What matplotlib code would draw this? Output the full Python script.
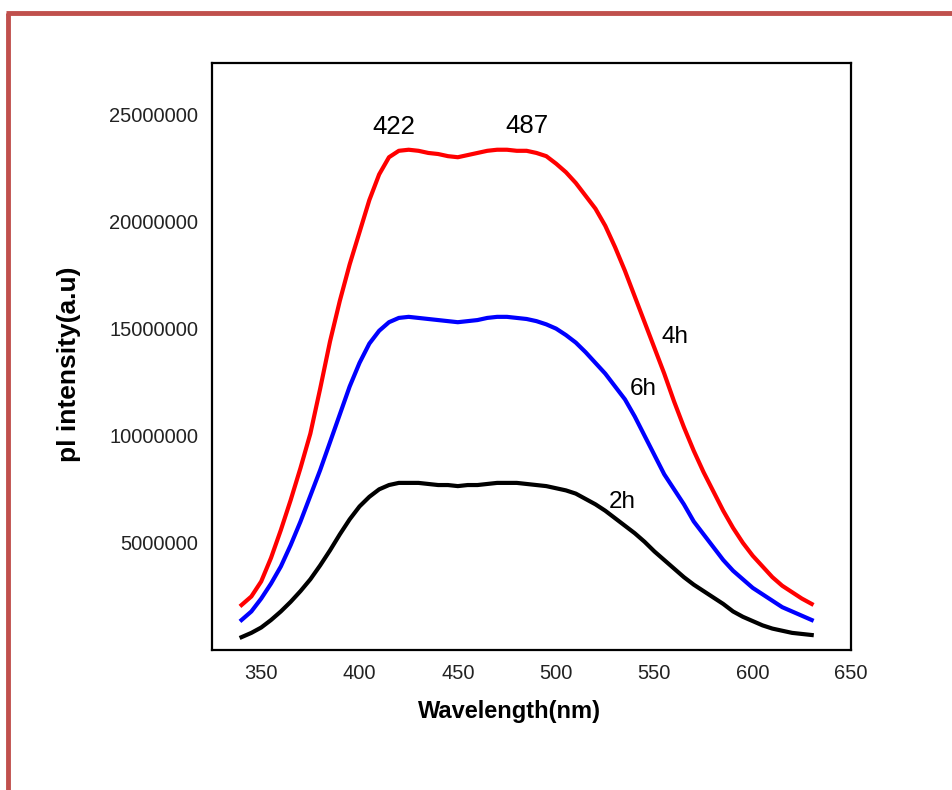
import numpy as np
import matplotlib
matplotlib.use("Agg")
import matplotlib.pyplot as plt
from matplotlib.lines import Line2D

plt.rcParams['font.family'] = ['Liberation Sans', 'DejaVu Sans']

# wavelength (nm) and PL intensity (millions, a.u.)
wavelength = np.arange(340, 631, 5)

red_4h = [2.1, 2.5, 3.2, 4.3, 5.6, 7.0, 8.5, 10.1, 12.2, 14.4,
          16.3, 18.0, 19.5, 21.0, 22.2, 23.0, 23.3, 23.35, 23.3, 23.2,
          23.15, 23.05, 23.0, 23.1, 23.2, 23.3, 23.35, 23.35, 23.3, 23.3,
          23.2, 23.05, 22.7, 22.3, 21.8, 21.2, 20.6, 19.8, 18.8, 17.7,
          16.5, 15.3, 14.1, 12.9, 11.6, 10.4, 9.3, 8.3, 7.4, 6.5,
          5.7, 5.0, 4.4, 3.9, 3.4, 3.0, 2.7, 2.4, 2.15]

blue_6h = [1.4, 1.8, 2.4, 3.1, 3.9, 4.9, 6.0, 7.2, 8.4, 9.7,
           11.0, 12.3, 13.4, 14.3, 14.9, 15.3, 15.5, 15.55, 15.5, 15.45,
           15.4, 15.35, 15.3, 15.35, 15.4, 15.5, 15.55, 15.55, 15.5, 15.45,
           15.35, 15.2, 15.0, 14.7, 14.35, 13.9, 13.4, 12.9, 12.3, 11.7,
           10.9, 10.0, 9.1, 8.2, 7.5, 6.8, 6.0, 5.4, 4.8, 4.2,
           3.7, 3.3, 2.9, 2.6, 2.3, 2.0, 1.8, 1.6, 1.4]

black_2h = [0.6, 0.8, 1.05, 1.4, 1.8, 2.25, 2.75, 3.3, 3.95, 4.65,
            5.4, 6.1, 6.7, 7.15, 7.5, 7.7, 7.8, 7.8, 7.8, 7.75,
            7.7, 7.7, 7.65, 7.7, 7.7, 7.75, 7.8, 7.8, 7.8, 7.75,
            7.7, 7.65, 7.55, 7.45, 7.3, 7.05, 6.8, 6.5, 6.15, 5.8,
            5.45, 5.05, 4.6, 4.2, 3.8, 3.4, 3.05, 2.75, 2.45, 2.15,
            1.8, 1.55, 1.35, 1.15, 1.0, 0.9, 0.8, 0.75, 0.7]

xticks = [350, 400, 450, 500, 550, 600, 650]
yticks = [5000000, 10000000, 15000000, 20000000, 25000000]

fig = plt.figure(figsize=(9.53, 7.90), dpi=100)
ax = fig.add_axes([0.2225, 0.1772, 0.6705, 0.7431])

scale = 1e6
ax.plot(wavelength, np.array(red_4h) * scale, color='#ff0000', lw=3)
ax.plot(wavelength, np.array(blue_6h) * scale, color='#0000ff', lw=3)
ax.plot(wavelength, np.array(black_2h) * scale, color='#000000', lw=3)

ax.set_xlim(325, 650)
ax.set_ylim(0, 27.4e6)
ax.set_xticks(xticks)
ax.set_yticks(yticks)
ax.set_yticklabels([str(v) for v in yticks])
ax.tick_params(length=0, labelsize=14.5, colors='#222222')
ax.tick_params(axis='x', pad=10)
ax.tick_params(axis='y', pad=10)
for sp in ax.spines.values():
    sp.set_linewidth(1.6)

ax.set_xlabel('Wavelength(nm)', fontsize=17, fontweight='bold')
ax.xaxis.set_label_coords(0.465, -0.085)
ax.set_ylabel('pl intensity(a.u)', fontsize=19, fontweight='bold')
ax.yaxis.set_label_coords(-0.205, 0.486)

# peak positions and time labels
ax.text(417.5, 24.4e6, '422', fontsize=18.5, ha='center', va='center')
ax.text(485, 24.45e6, '487', fontsize=18.5, ha='center', va='center')
ax.text(560.5, 14.6e6, '4h', fontsize=17.5, ha='center', va='center')
ax.text(544.5, 12.2e6, '6h', fontsize=17.5, ha='center', va='center')
ax.text(533.5, 6.9e6, '2h', fontsize=17.5, ha='center', va='center')

# red frame on the left and top of the slide
border = '#c0504d'
fig.add_artist(Line2D([8 / 953, 8 / 953], [0, 1 - 13 / 790], color=border, lw=3.5,
                      transform=fig.transFigure, solid_capstyle='butt'))
fig.add_artist(Line2D([6 / 953, 1], [1 - 13 / 790, 1 - 13 / 790], color=border, lw=3.5,
                      transform=fig.transFigure, solid_capstyle='butt'))

fig.savefig('out.png', dpi=100)
